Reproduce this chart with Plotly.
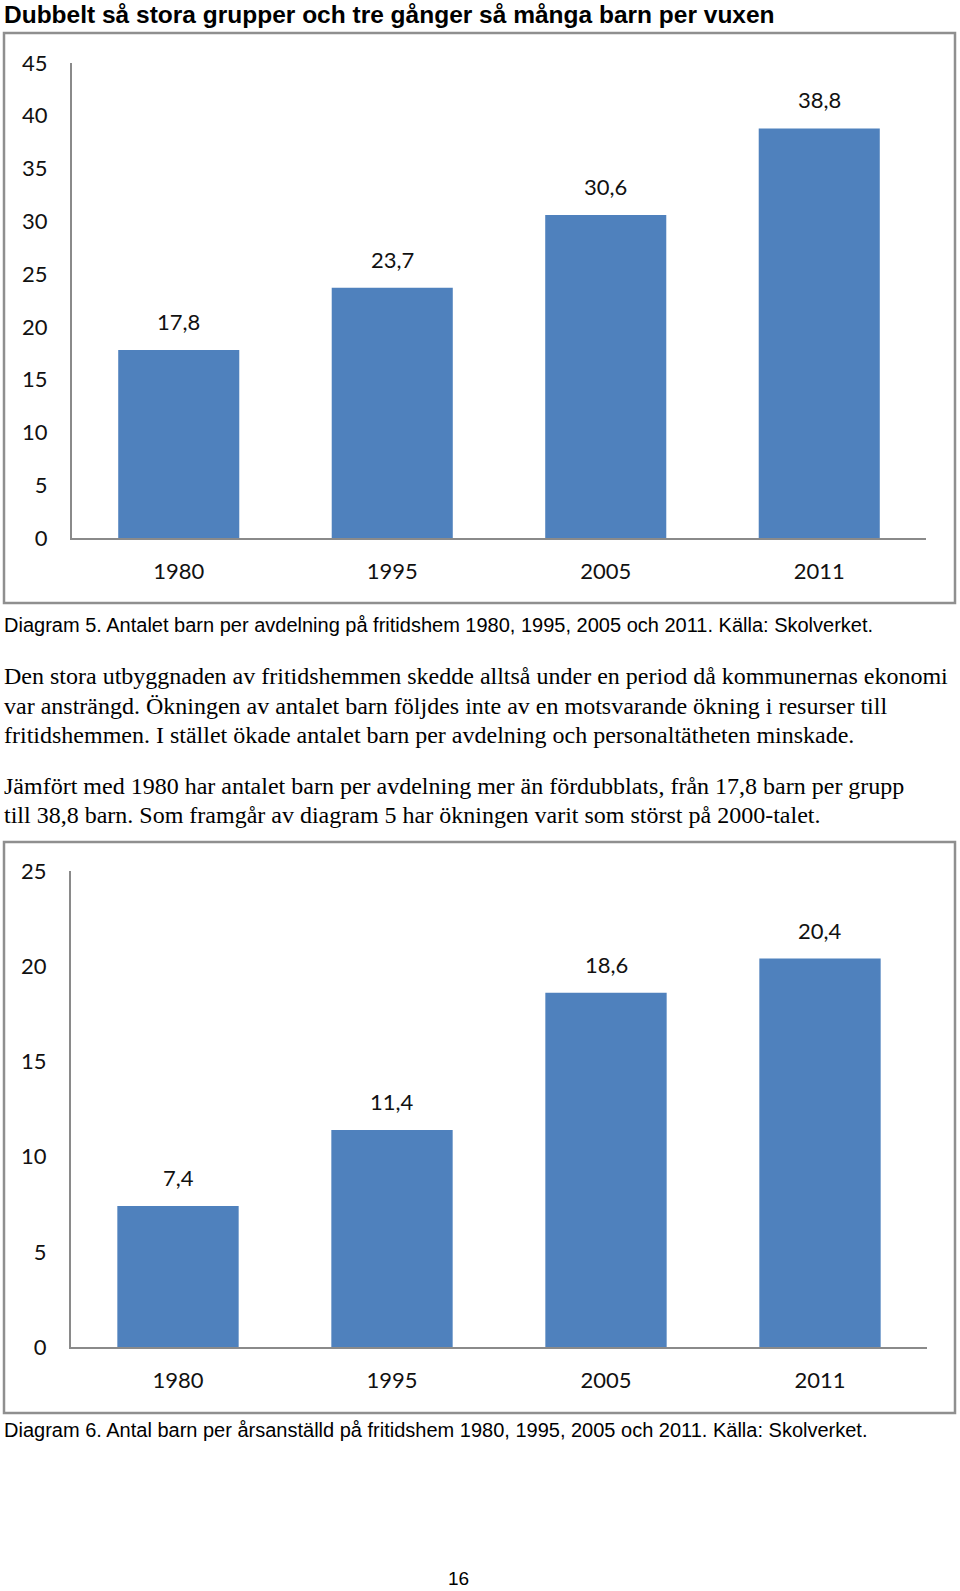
import plotly.graph_objects as go

W, H = 960, 1591

years = ["1980", "1995", "2005", "2011"]
barn_per_avdelning = [17.8, 23.7, 30.6, 38.8]
barn_per_anstalld = [7.4, 11.4, 18.6, 20.4]
y1_ticks = [0, 5, 10, 15, 20, 25, 30, 35, 40, 45]
y2_ticks = [0, 5, 10, 15, 20, 25]

title = "Dubbelt så stora grupper och tre gånger så många barn per vuxen"
caption1 = "Diagram 5. Antalet barn per avdelning på fritidshem 1980, 1995, 2005 och 2011. Källa: Skolverket."
caption2 = "Diagram 6. Antal barn per årsanställd på fritidshem 1980, 1995, 2005 och 2011. Källa: Skolverket."
body_lines = [
    "Den stora utbyggnaden av fritidshemmen skedde alltså under en period då kommunernas ekonomi",
    "var ansträngd. Ökningen av antalet barn följdes inte av en motsvarande ökning i resurser till",
    "fritidshemmen. I stället ökade antalet barn per avdelning och personaltätheten minskade.",
    "Jämfört med 1980 har antalet barn per avdelning mer än fördubblats, från 17,8 barn per grupp",
    "till 38,8 barn. Som framgår av diagram 5 har ökningen varit som störst på 2000-talet.",
]
page_number = "16"


def px(x):
    return x / W


def py(y):
    return 1 - y / H


BAR = "#4F81BD"
AXIS = "#8a8a8a"
TICKFONT = dict(family="Lato", size=22, color="#111111")


def fmt(v):
    return f"{v:.1f}".replace(".", ",")


fig = go.Figure()
fig.add_trace(go.Bar(x=years, y=barn_per_avdelning, marker=dict(color=BAR, line=dict(width=0)),
                     xaxis="x", yaxis="y", showlegend=False, hoverinfo="skip"))
fig.add_trace(go.Bar(x=years, y=barn_per_anstalld, marker=dict(color=BAR, line=dict(width=0)),
                     xaxis="x2", yaxis="y2", showlegend=False, hoverinfo="skip"))

annotations = []
for xa, ya, vals in (("x", "y", barn_per_avdelning), ("x2", "y2", barn_per_anstalld)):
    for i, v in enumerate(vals):
        annotations.append(dict(x=i, y=v, xref=xa, yref=ya, text=fmt(v), showarrow=False,
                                xanchor="center", yanchor="bottom", yshift=13, font=TICKFONT))

annotations.append(dict(x=px(2), y=py(14), xref="paper", yref="paper", text=f"<b>{title}</b>",
                        showarrow=False, xanchor="left", yanchor="middle",
                        font=dict(family="Liberation Sans", size=24.5, color="#000000")))
annotations.append(dict(x=px(2), y=py(625), xref="paper", yref="paper", text=caption1,
                        showarrow=False, xanchor="left", yanchor="middle",
                        font=dict(family="Liberation Sans", size=20, color="#000000")))
annotations.append(dict(x=px(2), y=py(1430), xref="paper", yref="paper", text=caption2,
                        showarrow=False, xanchor="left", yanchor="middle",
                        font=dict(family="Liberation Sans", size=20, color="#000000")))
for line, yc in zip(body_lines, [676, 706, 735, 786, 815]):
    annotations.append(dict(x=px(2), y=py(yc), xref="paper", yref="paper", text=line,
                            showarrow=False, xanchor="left", yanchor="middle",
                            font=dict(family="Liberation Serif", size=24, color="#000000")))
annotations.append(dict(x=px(458), y=py(1578), xref="paper", yref="paper", text=page_number,
                        showarrow=False, xanchor="center", yanchor="middle",
                        font=dict(family="Liberation Sans", size=19, color="#000000")))

shapes = []
for top, bottom in ((33, 603), (842, 1413)):
    shapes.append(dict(type="rect", xref="paper", yref="paper", x0=px(4), x1=px(955),
                       y0=py(bottom), y1=py(top), line=dict(color="#8f8f8f", width=2.5),
                       layer="below"))

common_x = dict(type="category", range=[-0.5, 3.5], showline=True, linecolor=AXIS, linewidth=2,
                showgrid=False, ticks="", tickfont=TICKFONT, ticklabelstandoff=13,
                fixedrange=True, automargin=False)
common_y = dict(showline=True, linecolor=AXIS, linewidth=2, showgrid=False, zeroline=False,
                ticks="", tickfont=TICKFONT, ticklabelstandoff=18, fixedrange=True,
                automargin=False)

fig.update_layout(
    width=W, height=H, margin=dict(l=0, r=0, t=0, b=0, pad=0, autoexpand=False),
    paper_bgcolor="white", plot_bgcolor="rgba(0,0,0,0)",
    bargap=0.433, showlegend=False,
    xaxis=dict(common_x, domain=[px(72), px(926)], anchor="y"),
    yaxis=dict(common_y, domain=[py(538), py(63)], range=[0, 45], tickvals=y1_ticks, anchor="x"),
    xaxis2=dict(common_x, domain=[px(71), px(927)], anchor="y2"),
    yaxis2=dict(common_y, domain=[py(1347), py(871)], range=[0, 25], tickvals=y2_ticks, anchor="x2"),
    annotations=annotations, shapes=shapes,
)

fig.write_html("out.html", config={"displayModeBar": False},
               post_script="document.body.style.margin='0';")
